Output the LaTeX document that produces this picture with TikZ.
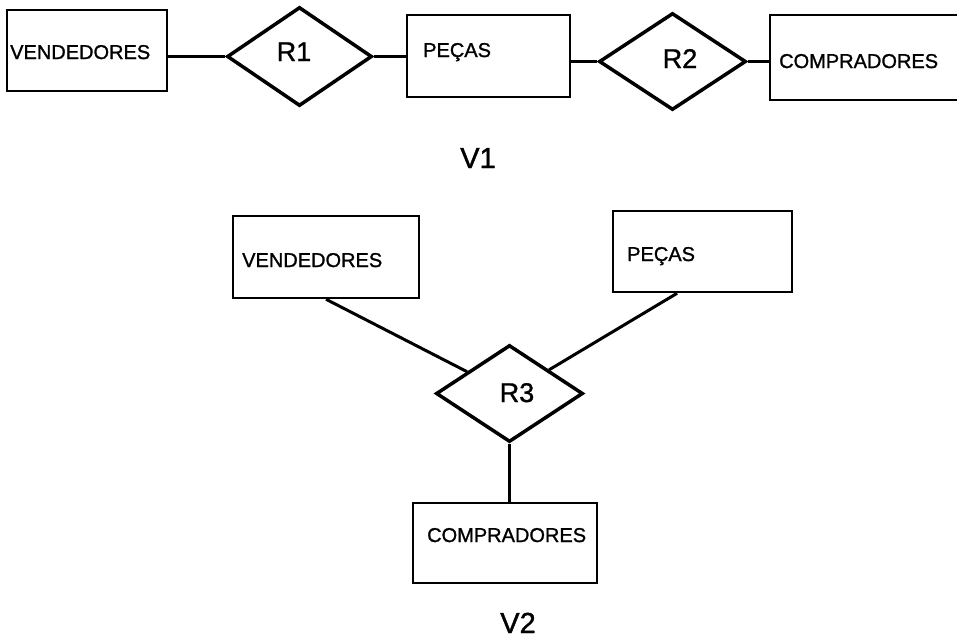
\documentclass[tikz,border=0pt]{standalone}
\usepackage{fontspec}
\setmainfont{Liberation Sans}
\newfontfamily\labelfont{Liberation Sans}[FakeBold=1.2]
\usetikzlibrary{shapes.geometric,calc}

\tikzset{
  entity/.style={draw, line width=2.5pt, rectangle, inner sep=0pt},
  relation/.style={draw, line width=3.5pt, diamond, inner sep=0pt, line join=miter},
  link/.style={line width=3pt},
  elabel/.style={inner sep=0pt, font=\labelfont\fontsize{20}{24}\selectfont},
  rlabel/.style={inner sep=0pt, font=\labelfont\fontsize{27}{32}\selectfont, anchor=base},
  vlabel/.style={inner sep=0pt, font=\labelfont\fontsize{29}{34}\selectfont, anchor=base},
}

\begin{document}
\begin{tikzpicture}[x=1pt, y=-1pt]
  \fill[white] (0,0) rectangle (957,638);
  \useasboundingbox (0,0) rectangle (957,638);
  \clip (0,0) rectangle (957,638);

  % ---- V1: binary relationships in a row ----
  \node[entity, minimum width=160pt, minimum height=81pt] (v1) at (87,50.5) {};
  \node[relation, minimum width=145pt, minimum height=99pt] (r1) at (299.5,56.5) {};
  \node[entity, minimum width=163pt, minimum height=82pt] (p1) at (488.5,56) {};
  \node[relation, minimum width=147pt, minimum height=97pt] (r2) at (672.5,61.5) {};
  \node[entity, minimum width=190pt, minimum height=85pt] (c1) at (865,57.5) {};

  \node[elabel, anchor=base west] (v1t) at (10,59) {VENDEDORES};
  \node[rlabel] (r1t) at (294,61) {R1};
  \node[elabel, anchor=base west] (p1t) at (423,57) {PEÇAS};
  \node[rlabel] (r2t) at (680,68) {R2};
  \node[elabel, anchor=base west] (c1t) at (779,68) {COMPRADORES};

  \draw[link] (v1.east |- r1.west) -- (r1.west);
  \draw[link] (r1.east) -- (p1.west |- r1.east);
  \draw[link] (p1.east |- r2.west) -- (r2.west);
  \draw[link] (r2.east) -- (c1.west |- r2.east);

  \node[vlabel] (v1cap) at (478,168) {V1};

  % ---- V2: one ternary relationship ----
  \node[entity, minimum width=186pt, minimum height=82pt] (v2) at (326,257) {};
  \node[entity, minimum width=179pt, minimum height=81pt] (p2) at (702.5,251.5) {};
  \node[relation, minimum width=147pt, minimum height=97pt] (r3) at (509.5,393.5) {};
  \node[entity, minimum width=184pt, minimum height=80pt] (c2) at (505,543) {};

  \node[elabel, anchor=base west] (v2t) at (242,267) {VENDEDORES};
  \node[elabel, anchor=base west] (p2t) at (627,261) {PEÇAS};
  \node[rlabel] (r3t) at (517,402) {R3};
  \node[elabel, anchor=base west] (c2t) at (427,542) {COMPRADORES};

  \coordinate (p2a) at ($(p2.south west)!0.36!(p2.south east)$);
  \draw[link] (v2.south) -- (r3);
  \draw[link] (p2a) -- (r3);
  \draw[link] (r3.south) -- (r3.south |- c2.north);

  \node[vlabel] (v2cap) at (518,633) {V2};
\end{tikzpicture}
\end{document}
